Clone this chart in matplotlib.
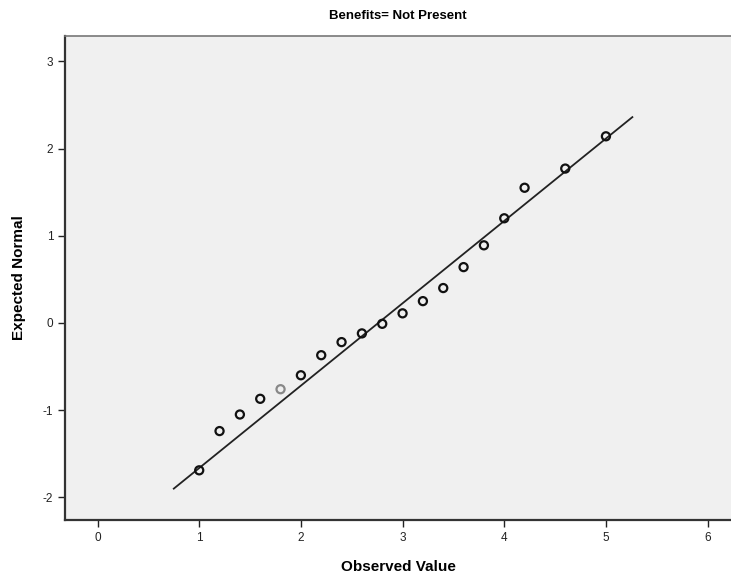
import matplotlib
matplotlib.use('Agg')
import matplotlib.pyplot as plt

# observed values and expected normal scores
obs = [1.0, 1.2, 1.4, 1.6, 1.8, 2.0, 2.2, 2.4, 2.6, 2.8, 3.0, 3.2, 3.4, 3.6, 3.8, 4.0, 4.2, 4.6, 5.0]
expected = [-1.69, -1.24, -1.05, -0.87, -0.76, -0.60, -0.37, -0.22, -0.12, -0.01, 0.11,
            0.25, 0.40, 0.64, 0.89, 1.20, 1.55, 1.77, 2.14]
# points drawn lighter (single observation)
light = [1.8]
# reference line end points
line_x = [0.75, 5.26]
line_y = [-1.90, 2.36]
xticks = [0, 1, 2, 3, 4, 5, 6]
yticks = [-2, -1, 0, 1, 2, 3]

plt.rcParams['font.family'] = ['Liberation Sans Narrow', 'Liberation Sans', 'DejaVu Sans']
plt.rcParams['axes.unicode_minus'] = False

fig = plt.figure(figsize=(7.31, 5.78), dpi=100)
ax = fig.add_axes([0.0889, 0.1003, 0.9111, 0.8374])
ax.set_facecolor('#f0f0f0')

ax.plot(line_x, line_y, color='#222222', lw=1.3, zorder=2)
colors = ['#888888' if x in light else '#111111' for x in obs]
ax.scatter(obs, expected, s=34, facecolors='none', edgecolors=colors, linewidths=1.6, zorder=3)

ax.set_xlim(-0.32, 6.23)
ax.set_ylim(-2.26, 3.29)
ax.set_xticks(xticks)
ax.set_yticks(yticks)
ax.tick_params(direction='out', length=5, width=1, labelsize=8.5, colors='#222222')

for side in ['left', 'bottom']:
    ax.spines[side].set_linewidth(1.6)
    ax.spines[side].set_color('#333333')
ax.spines['top'].set_color('#777777')
ax.spines['top'].set_linewidth(1.2)
ax.spines['right'].set_visible(False)

ax.set_title('Benefits= Not Present', fontsize=9.5, fontweight='bold', pad=12)
ax.set_xlabel('Observed Value', fontsize=11, fontweight='bold', labelpad=12)
ax.set_ylabel('Expected Normal', fontsize=11, fontweight='bold', labelpad=12)

fig.savefig('out.png', dpi=100)
